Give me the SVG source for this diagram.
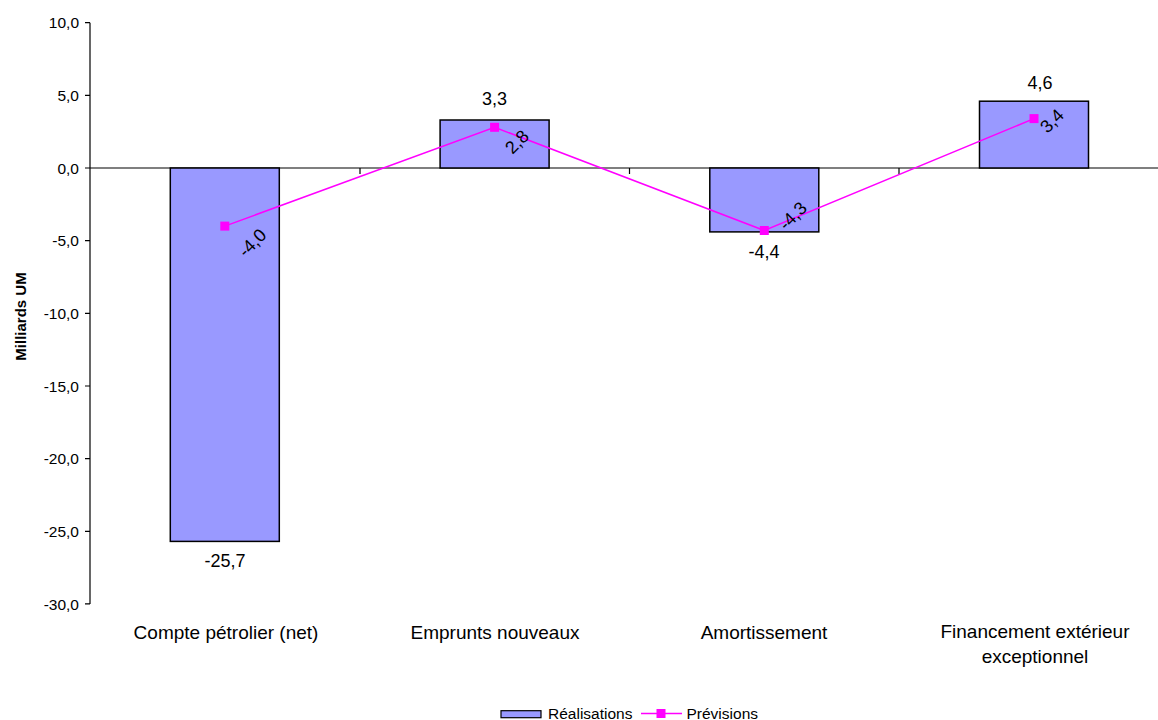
<svg xmlns="http://www.w3.org/2000/svg" width="1158" height="720" viewBox="0 0 1158 720">
<style>
text{font-family:"Liberation Sans",Arial,sans-serif;fill:#000}
.yl{font-size:15.5px;text-anchor:end}
.dl{font-size:18px;text-anchor:middle}
.cl{font-size:19px;text-anchor:middle}
.lg{font-size:15.5px}
.bar{fill:#9999FF;stroke:#000;stroke-width:1.5}
.ax{stroke:#000;stroke-width:1.2;fill:none}
.ser{stroke:#FF00FF;stroke-width:1.5;fill:none}
.mk{fill:#FF00FF}
</style>
<defs>
<rect id="m" x="-4.5" y="-4.5" width="9" height="9" class="mk"/>
</defs>
<rect width="1158" height="720" fill="#fff"/>
<g id="axes">
<line class="ax" x1="90" y1="22.7" x2="90" y2="603.9"/>
<path class="ax" d="M85,22.7H90M85,95.4H90M85,168H90M85,240.7H90M85,313.3H90M85,386H90M85,458.6H90M85,531.3H90M85,603.9H90"/>
<line class="ax" x1="90" y1="168" x2="1158" y2="168" stroke="#333"/>
<path class="ax" d="M360,168V174M629.5,168V174M899,168V174"/>
<text class="yl" x="79" y="28">10,0</text>
<text class="yl" x="79" y="101">5,0</text>
<text class="yl" x="79" y="173.5">0,0</text>
<text class="yl" x="79" y="246">-5,0</text>
<text class="yl" x="79" y="319">-10,0</text>
<text class="yl" x="79" y="391.5">-15,0</text>
<text class="yl" x="79" y="464">-20,0</text>
<text class="yl" x="79" y="537">-25,0</text>
<text class="yl" x="79" y="609.5">-30,0</text>
<text transform="translate(26,316.5) rotate(-90)" text-anchor="middle" font-size="15px" font-weight="bold">Milliards UM</text>
</g>
<g id="bar-compte-petrolier">
<rect class="bar" x="170.3" y="168" width="109" height="373.4"/>
<text class="dl" x="225" y="566.5">-25,7</text>
<text class="cl" x="226" y="639">Compte pétrolier (net)</text>
</g>
<g id="bar-emprunts">
<rect class="bar" x="440.1" y="120" width="109" height="48"/>
<text class="dl" x="494.5" y="105">3,3</text>
<text class="cl" x="495" y="639">Emprunts nouveaux</text>
</g>
<g id="bar-amortissement">
<rect class="bar" x="709.8" y="168" width="109" height="63.9"/>
<text class="dl" x="764" y="257.5">-4,4</text>
<text class="cl" x="764" y="639">Amortissement</text>
</g>
<g id="bar-financement">
<rect class="bar" x="979.5" y="101.2" width="109" height="66.8"/>
<text class="dl" x="1040" y="89">4,6</text>
<text class="cl" x="1035" y="638">Financement extérieur</text>
<text class="cl" x="1035" y="663">exceptionnel</text>
</g>
<g id="connectors">
<polyline class="ser" points="224.8,226.1 494.6,127.3 764.3,230.5 1034,118.6"/>
<use href="#m" x="224.8" y="226.1"/>
<use href="#m" x="494.6" y="127.3"/>
<use href="#m" x="764.3" y="230.5"/>
<use href="#m" x="1034" y="118.6"/>
</g>
<g id="line-labels">
<text class="dl" transform="translate(252.5,243) rotate(-45)" y="6">-4,0</text>
<text class="dl" transform="translate(517,142) rotate(-45)" y="6">2,8</text>
<text class="dl" transform="translate(793,216) rotate(-45)" y="6">-4,3</text>
<text class="dl" transform="translate(1052,121) rotate(-45)" y="6">3,4</text>
</g>
<g id="legend">
<rect x="501" y="710.7" width="40" height="7" fill="#9999FF" stroke="#000" stroke-width="1.2"/>
<text class="lg" x="548" y="719">Réalisations</text>
<line class="ser" x1="641" y1="713.5" x2="682" y2="713.5"/>
<use href="#m" x="661" y="713.5"/>
<text class="lg" x="686.5" y="719">Prévisions</text>
</g>
</svg>
